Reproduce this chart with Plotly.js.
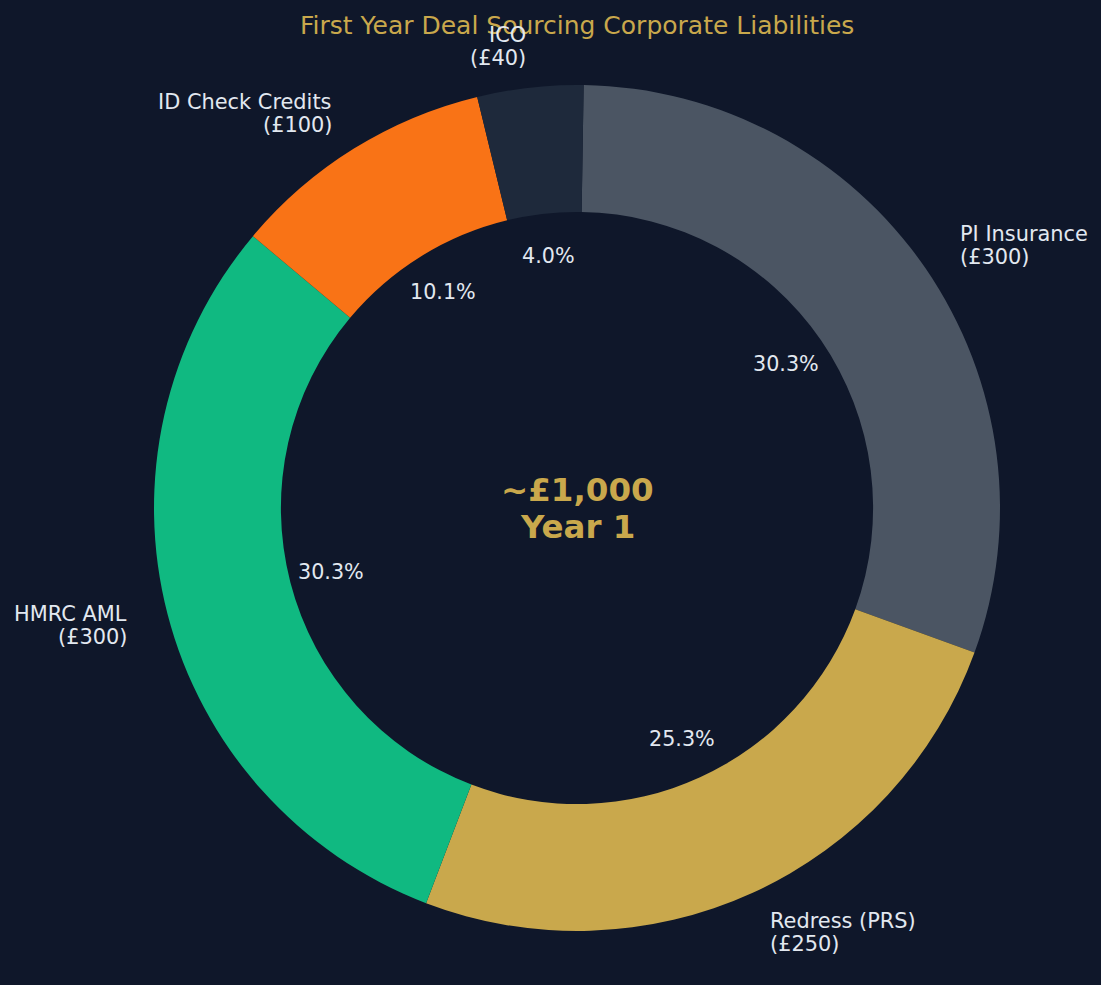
<!DOCTYPE html>
<html><head><meta charset="utf-8">
<script src="https://cdn.plot.ly/plotly-3.0.1.min.js"></script>
<style>html,body{margin:0;padding:0;background:#0f172a;}</style>
</head><body>
<div id="chart" style="width:1101px;height:985px"></div>
<script>
// ---- data ----
const categories = ['PI Insurance', 'Redress (PRS)', 'HMRC AML', 'ID Check Credits', 'ICO'];
const costs = [300, 250, 300, 100, 40];
const amountLabels = ['(£300)', '(£250)', '(£300)', '(£100)', '(£40)'];
const sliceColors = ['#4b5563', '#c9a84c', '#10b981', '#f97316', '#1e293b'];
const titleText = 'First Year Deal Sourcing Corporate Liabilities';
const centerLines = ['~£1,000', 'Year 1'];

// ---- layout constants ----
const W = 1101, H = 985;
const M = {l: 154, r: 101, t: 85, b: 54};
const side = 846;               // plot area (square)
const R = side / 2;              // outer radius in px
const cx = M.l + R, cy = M.t + R;
const START = 89.1;              // start angle (deg, counter-clockwise from +x)
const FONT = 'DejaVu Sans';
const txtColor = '#e2e8f0';
const gold = '#c9a84c';

function toPaper(px, py) {
  return {x: (px - M.l) / side, y: (H - M.b - py) / side};
}

const total = costs.reduce((a, b) => a + b, 0);
const annotations = [];

// title
(function () {
  const p = toPaper(cx, 26);
  annotations.push({xref: 'paper', yref: 'paper', x: p.x, y: p.y, xanchor: 'center', yanchor: 'middle',
    text: titleText, showarrow: false, font: {family: FONT, size: 25, color: gold}});
})();

let cum = 0;
costs.forEach((v, i) => {
  const frac = v / total;
  const mid = (START - 360 * (cum + frac / 2)) * Math.PI / 180;
  cum += frac;
  // outer labels
  const lx = cx + 1.1 * R * Math.cos(mid);
  const ly = cy - 1.1 * R * Math.sin(mid);
  const right = lx > cx;
  const p = toPaper(lx, ly);
  [categories[i], amountLabels[i]].forEach((t, k) => {
    annotations.push({xref: 'paper', yref: 'paper', x: p.x, y: p.y, xanchor: right ? 'left' : 'right',
      yanchor: 'middle', yshift: (k === 0 ? 11.5 : -11.5) - 1, xshift: right ? -2 : 2.5,
      text: t, showarrow: false,
      align: right ? 'left' : 'right', font: {family: FONT, size: 20.9, color: txtColor}});
  });
  // percent labels
  const qx = cx + 0.6 * R * Math.cos(mid);
  const qy = cy - 0.6 * R * Math.sin(mid);
  const q = toPaper(qx, qy);
  annotations.push({xref: 'paper', yref: 'paper', x: q.x, y: q.y, xanchor: 'center', yanchor: 'middle',
    yshift: 0, text: (frac * 100).toFixed(1) + '%', showarrow: false,
    font: {family: FONT, size: 20.7, color: txtColor}});
});

// centre text
centerLines.forEach((t, k) => {
  const p = toPaper(cx, cy);
  annotations.push({xref: 'paper', yref: 'paper', x: p.x, y: p.y, xanchor: 'center', yanchor: 'middle',
    yshift: (k === 0 ? 18.5 : -18.5), text: '<b>' + t + '</b>', showarrow: false,
    font: {family: FONT, size: 32.5, color: gold}});
});

const trace = {
  type: 'pie',
  labels: categories,
  values: costs,
  hole: 0.7,
  sort: false,
  direction: 'clockwise',
  rotation: 90 - START,
  textinfo: 'none',
  hoverinfo: 'label+value+percent',
  marker: {colors: sliceColors, line: {width: 0}},
  domain: {x: [0, 1], y: [0, 1]},
  showlegend: false
};

const layout = {
  width: W, height: H,
  margin: {l: M.l, r: M.r, t: M.t, b: M.b, pad: 0},
  paper_bgcolor: '#0f172a',
  plot_bgcolor: '#0f172a',
  showlegend: false,
  annotations: annotations
};

Plotly.newPlot('chart', [trace], layout, {displayModeBar: false, staticPlot: true});
</script>
</body></html>
